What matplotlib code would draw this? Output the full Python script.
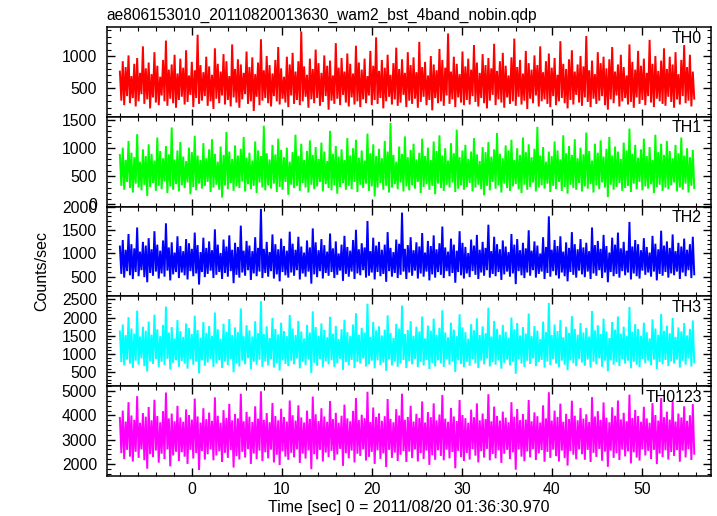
import numpy as np
import matplotlib
matplotlib.use("Agg")
import matplotlib.pyplot as plt
from matplotlib.ticker import MultipleLocator

plt.rcParams["font.family"] = ["Liberation Sans", "DejaVu Sans"]

TITLE = "ae806153010_20110820013630_wam2_bst_4band_nobin.qdp"
XLABEL = "Time [sec] 0 = 2011/08/20 01:36:30.970"
YLABEL = "Counts/sec"

# light curve bins (start time and bin width, sec)
t0 = -8.0
dt = 0.16

bands = ["TH0", "TH1", "TH2", "TH3", "TH0123"]
colors = ["#ff0000", "#00ff00", "#0000ff", "#00ffff", "#ff00ff"]

# counts/sec
th0 = [
    760, 310, 920, 240, 830, 380, 1010, 270, 690, 350, 880, 220, 970, 300, 740, 410, 1150, 260, 810, 330,
    900, 190, 720, 360, 1060, 280, 850, 240, 680, 390, 940, 300, 1240, 230, 790, 340, 870, 270, 1020, 200,
    730, 320, 960, 370, 820, 250, 1090, 290, 700, 400, 910, 210, 780, 350, 1330, 260, 860, 310, 750, 380,
    990, 230, 840, 300, 710, 180, 1120, 340, 880, 270, 760, 390, 1030, 250, 920, 320, 690, 220, 1180, 360,
    800, 280, 950, 200, 870, 330, 740, 410, 1070, 260, 830, 300, 980, 150, 720, 370, 900, 240, 1260, 310,
    780, 350, 1000, 270, 860, 220, 730, 380, 940, 300, 1140, 250, 810, 340, 680, 280, 990, 210, 870, 390,
    1050, 260, 760, 320, 920, 240, 1380, 300, 840, 370, 710, 200, 960, 330, 800, 270, 1100, 350, 890, 230,
    740, 290, 1010, 380, 850, 170, 930, 310, 700, 260, 1200, 340, 820, 240, 970, 400, 760, 280, 1040, 220,
    880, 360, 730, 250, 1160, 300, 900, 210, 790, 330, 960, 270, 690, 390, 1080, 240, 850, 320, 1290, 260,
    770, 350, 940, 190, 820, 300, 1020, 370, 710, 250, 890, 330, 1130, 230, 800, 280, 950, 400, 740, 210,
    1060, 310, 860, 260, 980, 340, 750, 200, 1220, 290, 830, 370, 910, 240, 700, 320, 1000, 160, 870, 350,
    780, 270, 1110, 300, 940, 230, 820, 390, 1350, 260, 760, 330, 990, 210, 880, 360, 720, 280, 1070, 240,
    840, 320, 960, 250, 790, 380, 1170, 290, 900, 220, 740, 350, 1030, 270, 860, 190, 970, 310, 810, 400,
    1190, 240, 770, 330, 920, 280, 1050, 200, 850, 360, 700, 260, 980, 300, 1270, 230, 830, 370, 940, 250,
    730, 310, 1080, 180, 890, 340, 790, 270, 1010, 390, 860, 220, 1150, 300, 750, 330, 920, 260, 1040, 210,
    820, 380, 970, 240, 710, 300, 1230, 350, 880, 270, 800, 190, 950, 320, 1090, 250, 760, 400, 870, 280,
    1000, 230, 840, 360, 1310, 290, 780, 210, 930, 340, 720, 260, 1060, 310, 890, 380, 990, 240, 810, 170,
    950, 330, 1140, 270, 760, 390, 870, 220, 1020, 300, 830, 350, 700, 250, 1180, 290, 910, 200, 790, 360,
    1080, 260, 850, 320, 960, 240, 740, 380, 1250, 280, 880, 210, 1000, 340, 770, 300, 930, 260, 1120, 230,
    800, 370, 990, 290, 870, 200, 1060, 330, 720, 250, 940, 380, 1170, 270, 830, 310, 1020, 220, 760, 340,
]
th1 = [
    880, 330, 1010, 260, 790, 400, 1130, 290, 920, 210, 840, 370, 1250, 300, 760, 250, 980, 350, 860, 150,
    1070, 310, 900, 380, 780, 240, 1190, 330, 950, 270, 820, 410, 1040, 200, 890, 320, 1370, 260, 800, 360,
    960, 230, 1110, 340, 850, 290, 770, 390, 1010, 180, 930, 310, 1220, 250, 870, 370, 790, 280, 1090, 330,
    820, 400, 980, 220, 1160, 300, 900, 350, 760, 260, 1030, 120, 880, 340, 1290, 270, 940, 380, 810, 240,
    1050, 320, 870, 290, 990, 410, 1200, 230, 830, 360, 920, 270, 780, 330, 1120, 200, 960, 390, 860, 300,
    1400, 250, 910, 340, 800, 280, 1060, 370, 890, 220, 1170, 310, 970, 260, 840, 400, 1010, 170, 760, 350,
    930, 290, 1240, 330, 860, 240, 1080, 380, 790, 300, 950, 210, 1140, 350, 880, 270, 1020, 320, 810, 400,
    1100, 230, 940, 360, 770, 290, 1310, 250, 900, 340, 1040, 190, 850, 310, 980, 380, 790, 260, 1180, 330,
    870, 270, 1000, 400, 1150, 220, 830, 350, 960, 290, 780, 370, 1260, 240, 910, 320, 1070, 140, 860, 300,
    990, 380, 820, 260, 1130, 330, 940, 210, 1450, 300, 880, 360, 760, 270, 1030, 390, 900, 230, 1210, 320,
    840, 250, 970, 340, 1080, 280, 800, 400, 920, 200, 1170, 310, 860, 360, 1010, 260, 790, 330, 1120, 180,
    950, 370, 1230, 290, 870, 240, 1000, 350, 780, 300, 1090, 390, 910, 220, 1330, 280, 840, 340, 960, 260,
    1060, 310, 810, 380, 940, 230, 1180, 300, 890, 350, 770, 270, 1020, 160, 930, 330, 1110, 250, 850, 400,
    980, 280, 1270, 340, 900, 210, 820, 370, 1050, 290, 960, 240, 1150, 320, 790, 360, 1000, 270, 880, 200,
    1190, 350, 930, 260, 1070, 310, 840, 390, 990, 230, 1380, 300, 870, 340, 1020, 280, 760, 370, 940, 220,
    860, 330, 1120, 270, 960, 400, 800, 240, 1230, 310, 910, 190, 1040, 350, 880, 290, 1160, 260, 820, 380,
    1010, 230, 890, 320, 1280, 280, 950, 360, 780, 210, 1080, 340, 920, 270, 1140, 390, 850, 300, 990, 130,
    1200, 350, 870, 260, 1030, 310, 940, 380, 810, 240, 1100, 290, 960, 330, 1350, 220, 900, 370, 1060, 270,
    830, 400, 980, 250, 1170, 320, 860, 280, 1020, 360, 790, 200, 1240, 310, 930, 350, 1080, 240, 880, 300,
    1130, 270, 950, 340, 820, 390, 1060, 230, 910, 300, 1190, 260, 870, 370, 1000, 210, 840, 330, 970, 290,
]
th2 = [
    1150, 560, 1290, 480, 1080, 620, 1420, 530, 1200, 450, 1110, 600, 1560, 510, 1040, 640, 1250, 490, 1170, 380,
    1330, 580, 1090, 520, 1480, 610, 1190, 460, 1060, 570, 1280, 500, 1650, 630, 1130, 420, 1240, 550, 1020, 600,
    1370, 470, 1160, 590, 1050, 530, 1310, 440, 1220, 620, 1100, 510, 1450, 570, 1180, 330, 1030, 600, 1340, 490,
    1120, 560, 1260, 630, 1070, 470, 1520, 540, 1190, 600, 1010, 450, 1300, 580, 1150, 500, 1390, 620, 1080, 360,
    1230, 540, 1140, 480, 1600, 590, 1060, 520, 1270, 640, 1170, 430, 1050, 570, 1350, 510, 1120, 610, 1960, 470,
    1100, 580, 1250, 500, 1030, 620, 1410, 460, 1200, 550, 1090, 400, 1320, 600, 1160, 530, 1060, 480, 1470, 590,
    1210, 520, 1080, 640, 1360, 440, 1150, 570, 1020, 500, 1280, 610, 1130, 350, 1540, 550, 1240, 490, 1070, 620,
    1310, 460, 1180, 580, 1040, 520, 1430, 600, 1110, 470, 1260, 540, 1000, 630, 1190, 410, 1380, 560, 1140, 500,
    1060, 610, 1290, 450, 1510, 570, 1090, 530, 1220, 640, 1130, 480, 1700, 520, 1050, 590, 1340, 440, 1170, 600,
    1250, 510, 1080, 560, 1190, 390, 1460, 620, 1120, 500, 1030, 580, 1300, 470, 1210, 540, 1880, 610, 1100, 450,
    1180, 590, 1350, 520, 1070, 630, 1240, 460, 1150, 570, 1440, 500, 1020, 610, 1270, 420, 1160, 550, 1390, 480,
    1090, 600, 1220, 540, 1580, 470, 1130, 620, 1040, 510, 1320, 580, 1190, 370, 1060, 600, 1480, 530, 1230, 460,
    1140, 570, 1010, 490, 1300, 620, 1170, 540, 1400, 450, 1080, 590, 1250, 520, 1120, 640, 1620, 480, 1050, 560,
    1360, 510, 1200, 600, 1090, 430, 1280, 550, 1150, 610, 1030, 500, 1420, 570, 1190, 340, 1310, 620, 1070, 530,
    1230, 470, 1110, 590, 1500, 520, 1060, 640, 1260, 480, 1170, 560, 1000, 610, 1350, 450, 1140, 580, 1800, 500,
    1080, 620, 1290, 530, 1160, 460, 1370, 590, 1040, 510, 1240, 400, 1120, 600, 1460, 540, 1200, 480, 1090, 630,
    1310, 550, 1130, 490, 1230, 610, 1050, 450, 1560, 570, 1180, 520, 1270, 640, 1100, 470, 1400, 590, 1160, 380,
    1020, 600, 1340, 510, 1190, 560, 1450, 480, 1110, 620, 1250, 530, 1060, 590, 1680, 440, 1150, 570, 1290, 510,
    1200, 460, 1070, 630, 1330, 540, 1140, 590, 1020, 500, 1380, 610, 1210, 420, 1090, 560, 1490, 520, 1170, 600,
    1260, 480, 1120, 570, 1410, 530, 1050, 610, 1230, 450, 1150, 590, 1320, 510, 1080, 640, 1200, 470, 1360, 550,
]
th3 = [
    1620, 780, 1810, 690, 1520, 850, 2010, 740, 1700, 620, 1560, 820, 2190, 710, 1480, 880, 1750, 670, 1640, 520,
    1890, 800, 1530, 730, 2080, 860, 1680, 640, 1490, 790, 1800, 700, 2300, 870, 1590, 580, 1740, 760, 1430, 830,
    1930, 650, 1630, 810, 1470, 740, 1840, 600, 1710, 860, 1550, 710, 2050, 790, 1660, 470, 1450, 830, 1880, 680,
    1580, 770, 1770, 870, 1500, 650, 2140, 750, 1680, 830, 1420, 620, 1830, 800, 1610, 700, 1960, 860, 1520, 500,
    1730, 750, 1600, 660, 2250, 820, 1490, 720, 1790, 890, 1650, 590, 1480, 790, 1900, 710, 1570, 850, 2450, 650,
    1550, 800, 1760, 690, 1440, 860, 1990, 630, 1690, 760, 1540, 550, 1860, 830, 1630, 730, 1490, 670, 2070, 820,
    1700, 720, 1520, 880, 1910, 610, 1620, 790, 1430, 700, 1800, 850, 1590, 480, 2170, 760, 1740, 680, 1500, 860,
    1840, 640, 1660, 800, 1460, 720, 2020, 830, 1560, 650, 1770, 750, 1410, 870, 1680, 570, 1940, 780, 1600, 690,
    1490, 840, 1810, 620, 2120, 790, 1530, 740, 1720, 880, 1590, 660, 2380, 720, 1470, 820, 1880, 610, 1650, 830,
    1760, 700, 1510, 770, 1670, 540, 2060, 860, 1580, 690, 1440, 800, 1830, 650, 1700, 750, 2330, 840, 1550, 620,
    1660, 810, 1900, 720, 1500, 870, 1750, 640, 1620, 790, 2030, 690, 1430, 840, 1780, 590, 1640, 760, 1970, 660,
    1530, 830, 1720, 750, 2200, 650, 1590, 860, 1460, 710, 1860, 800, 1670, 510, 1490, 830, 2090, 730, 1730, 640,
    1600, 790, 1420, 680, 1820, 860, 1650, 750, 1980, 620, 1520, 820, 1760, 720, 1570, 880, 2270, 660, 1480, 780,
    1910, 710, 1690, 830, 1530, 600, 1800, 760, 1610, 850, 1450, 690, 2000, 790, 1680, 460, 1850, 860, 1510, 740,
    1740, 650, 1560, 820, 2110, 730, 1490, 880, 1770, 670, 1640, 780, 1410, 840, 1890, 630, 1600, 800, 2400, 700,
    1520, 860, 1810, 740, 1630, 640, 1930, 820, 1460, 710, 1750, 560, 1580, 830, 2040, 750, 1690, 670, 1530, 870,
    1850, 770, 1590, 680, 1720, 850, 1480, 630, 2180, 790, 1650, 720, 1790, 880, 1550, 650, 1970, 820, 1620, 530,
    1440, 830, 1880, 710, 1670, 780, 2030, 670, 1560, 860, 1750, 740, 1490, 820, 2290, 610, 1610, 790, 1820, 710,
    1690, 640, 1500, 870, 1860, 750, 1600, 820, 1430, 700, 1950, 850, 1700, 590, 1530, 780, 2100, 720, 1640, 840,
    1780, 670, 1570, 800, 1990, 740, 1470, 850, 1730, 630, 1620, 820, 1850, 710, 1510, 880, 1690, 660, 1920, 770,
]
th0123 = [
    3900, 2450, 4200, 2200, 3750, 2580, 4550, 2300, 4000, 2100, 3820, 2500, 4800, 2250, 3700, 2600, 4100, 2150, 3950, 1800,
    4350, 2400, 3800, 2280, 4650, 2550, 3980, 2050, 3720, 2420, 4180, 2200, 4950, 2600, 3880, 1900, 4080, 2350, 3760, 2500,
    4400, 2120, 3920, 2480, 3740, 2300, 4250, 2000, 4020, 2580, 3830, 2220, 4700, 2450, 3960, 1750, 3710, 2530, 4300, 2180,
    3850, 2400, 4120, 2600, 3780, 2150, 4750, 2350, 3990, 2520, 3700, 2080, 4220, 2460, 3900, 2250, 4480, 2570, 3800, 1850,
    4060, 2320, 3880, 2180, 4900, 2500, 3760, 2260, 4150, 2610, 3950, 2000, 3730, 2430, 4380, 2200, 3870, 2550, 5000, 2120,
    3820, 2480, 4100, 2230, 3720, 2590, 4520, 2060, 3980, 2380, 3800, 1950, 4280, 2520, 3940, 2300, 3750, 2170, 4620, 2460,
    4010, 2270, 3790, 2600, 4420, 2040, 3920, 2430, 3710, 2220, 4200, 2560, 3860, 1780, 4780, 2400, 4050, 2190, 3770, 2580,
    4300, 2100, 3960, 2470, 3740, 2280, 4600, 2540, 3850, 2150, 4110, 2390, 3700, 2620, 3990, 1920, 4450, 2440, 3880, 2230,
    3760, 2550, 4190, 2060, 4720, 2420, 3810, 2330, 4030, 2600, 3890, 2140, 4980, 2290, 3730, 2500, 4330, 2000, 3940, 2560,
    4090, 2210, 3780, 2440, 3970, 1870, 4680, 2580, 3860, 2250, 3720, 2470, 4260, 2120, 4000, 2380, 4900, 2530, 3820, 2080,
    3940, 2510, 4400, 2240, 3750, 2600, 4070, 2100, 3900, 2450, 4580, 2200, 3710, 2550, 4140, 1960, 3930, 2360, 4500, 2170,
    3800, 2560, 4040, 2330, 4850, 2150, 3870, 2590, 3740, 2230, 4310, 2490, 3960, 1820, 3770, 2540, 4640, 2280, 4020, 2120,
    3890, 2450, 3700, 2180, 4240, 2610, 3930, 2340, 4500, 2060, 3800, 2530, 4080, 2260, 3850, 2620, 4880, 2150, 3760, 2410,
    4370, 2230, 3980, 2560, 3790, 2040, 4160, 2420, 3910, 2580, 3720, 2200, 4550, 2480, 3950, 1760, 4270, 2600, 3810, 2300,
    4060, 2110, 3830, 2520, 4640, 2270, 3760, 2610, 4130, 2160, 3970, 2440, 3710, 2570, 4420, 2090, 3880, 2500, 4960, 2250,
    3790, 2590, 4200, 2320, 3940, 2100, 4490, 2550, 3740, 2240, 4070, 1930, 3850, 2530, 4610, 2380, 3990, 2190, 3800, 2600,
    4310, 2400, 3870, 2170, 4050, 2580, 3730, 2080, 4760, 2460, 3960, 2290, 4180, 2620, 3820, 2130, 4540, 2510, 3910, 1880,
    3720, 2550, 4340, 2250, 3990, 2440, 4620, 2160, 3840, 2590, 4110, 2310, 3760, 2520, 4860, 2020, 3900, 2480, 4230, 2260,
    3980, 2140, 3740, 2600, 4360, 2350, 3880, 2540, 3700, 2200, 4510, 2580, 4020, 1990, 3790, 2430, 4720, 2280, 3930, 2560,
    4160, 2180, 3830, 2490, 4590, 2330, 3750, 2570, 4080, 2090, 3920, 2550, 4380, 2270, 3780, 2610, 4010, 2160, 4470, 2420,
]
series = [th0, th1, th2, th3, th0123]

ylims = [(60, 1450), (-40, 1560), (75, 2010), (120, 2580), (1500, 5210)]
ymajor = [500, 500, 500, 500, 1000]
yminor = [100, 100, 100, 100, 200]

fig = plt.figure(figsize=(7.17, 5.16), dpi=100)
gs = fig.add_gridspec(5, 1, left=0.149, right=0.9916, top=0.9477, bottom=0.0775, hspace=0)

axes = []
for i in range(5):
    ax = fig.add_subplot(gs[i], sharex=axes[0] if axes else None)
    time = t0 + dt * np.arange(len(series[i]))
    ax.plot(time, series[i], color=colors[i], lw=1.4, solid_joinstyle="miter")
    ax.set_ylim(*ylims[i])
    ax.yaxis.set_major_locator(MultipleLocator(ymajor[i]))
    ax.yaxis.set_minor_locator(MultipleLocator(yminor[i]))
    ax.text(0.985, 0.96, bands[i], transform=ax.transAxes, ha="right", va="top", fontsize=11.5)
    ax.tick_params(which="both", direction="in", top=True, right=True, labelsize=11.3, pad=7)
    ax.tick_params(which="major", length=6, width=1)
    ax.tick_params(which="minor", length=3, width=0.8)
    ax.tick_params(axis="x", pad=4.5)
    for sp in ax.spines.values():
        sp.set_linewidth(1.1)
    if i < 4:
        ax.tick_params(axis="x", labelbottom=False)
    axes.append(ax)

axes[0].set_xlim(-9.45, 57.7)
axes[0].xaxis.set_major_locator(MultipleLocator(10))
axes[0].xaxis.set_minor_locator(MultipleLocator(2))

axes[0].set_title(TITLE, loc="left", fontsize=11.2, pad=5)
axes[-1].set_xlabel(XLABEL, fontsize=11.5, labelpad=2)
fig.text(0.058, 0.475, YLABEL, rotation=90, ha="center", va="center", fontsize=11.5)

fig.savefig("out.png", dpi=100)
